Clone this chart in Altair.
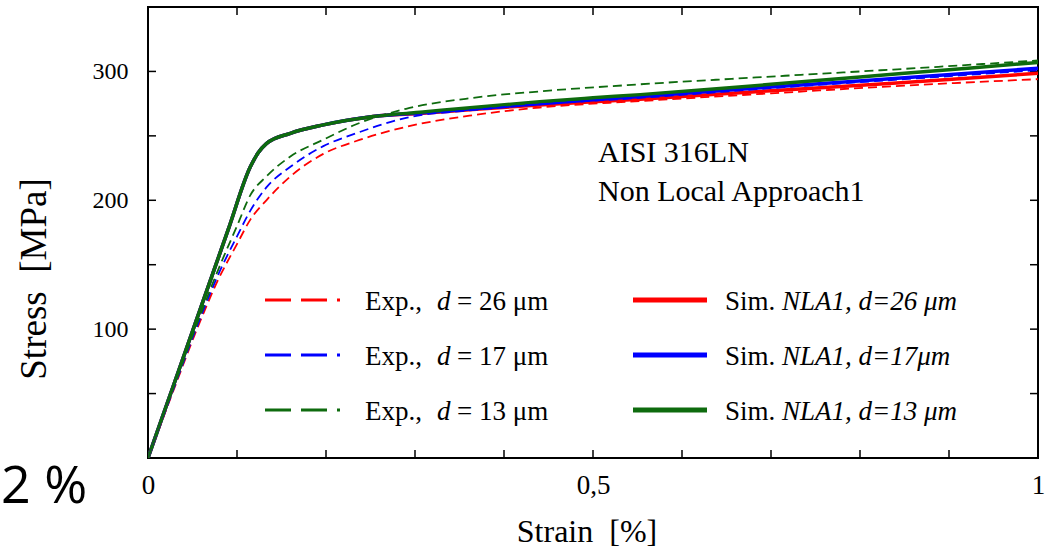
import altair as alt
import pandas as pd

# ---------------- data ----------------
sim_x = [0, 0.03, 0.06, 0.09, 0.115, 0.124, 0.133, 0.16, 0.197, 0.253, 0.309, 0.365, 0.44, 0.5, 0.553, 0.7, 0.85, 1.0]
sim_red = [0, 59, 118, 177, 226, 237, 244, 252, 258.5, 265, 267.5, 270.5, 274, 276.5, 278.5, 285, 291.5, 298.5]
sim_blue = [0, 59, 118, 177, 226, 237, 244, 252, 258.5, 265, 268, 271, 275, 278, 280.5, 288, 295, 302.5]
sim_green = [0, 59, 118, 177, 226, 237, 244, 252, 258.5, 265, 268.5, 272, 276.5, 279.5, 282, 290, 298.5, 307]

exp_x = [0, 0.03, 0.055, 0.08, 0.1, 0.115, 0.133, 0.16, 0.197, 0.234, 0.29, 0.365, 0.44, 0.553, 0.7, 0.85, 1.0]
exp_red = [0, 55, 100, 140, 166, 185, 200, 218.5, 236, 246, 257, 266, 272, 277, 283, 289, 294]
exp_blue = [0, 56, 102, 144, 172, 192, 210, 226, 242, 252, 264, 270, 274.5, 279.5, 287, 294, 301]
exp_green = [0, 57, 104, 148, 180, 204, 218.5, 234, 247, 259, 271, 279.5, 284.5, 290, 296, 302, 308.5]

x_minor_ticks = [0.1, 0.2, 0.3, 0.4, 0.5, 0.6, 0.7, 0.8, 0.9]
y_minor_ticks = [50, 100, 150, 200, 250, 300]
x_labels = [0, 0.5, 1]
y_labels = [100, 200, 300]

exp_legend = ["26 μm", "17 μm", "13 μm"]
sim_legend = ["NLA1, d=26 μm", "NLA1, d=17μm", "NLA1, d=13 μm"]
colors = ["#ff0000", "#0000ff", "#0e6b0e"]

W, H = 890, 451
SERIF = "Liberation Serif"

xs = alt.Scale(domain=[0, 1], nice=False)
ys = alt.Scale(domain=[0, 350], nice=False)

one = pd.DataFrame({"k": [0]})


def curve(xv, yv, color, dashed):
    df = pd.DataFrame({"strain": xv, "stress": yv})
    kw = dict(color=color, strokeWidth=1.8 if dashed else 3.5, interpolate="monotone", clip=True)
    if dashed:
        kw["strokeDash"] = [9, 5]
    return alt.Chart(df).mark_line(**kw).encode(
        x=alt.X("strain:Q", scale=xs),
        y=alt.Y("stress:Q", scale=ys),
    )


layers = []

# axes (labels only); frame drawn by the view stroke
axis_layer = alt.Chart(pd.DataFrame({"strain": [0.0, 1.0], "stress": [0.0, 350.0]})).mark_point(opacity=0).encode(
    x=alt.X(
        "strain:Q", scale=xs,
        axis=alt.Axis(values=x_labels,
                      labelExpr="datum.value == 0.5 ? '0,5' : (datum.value == 0 ? '0' : '1')",
                      ticks=False, domain=False, grid=False, title=None,
                      labelFont=SERIF, labelFontSize=27, labelColor="black", labelPadding=14,
                      labelFlush=False),
    ),
    y=alt.Y(
        "stress:Q", scale=ys,
        axis=alt.Axis(values=y_labels, ticks=False, domain=False, grid=False, title=None,
                      labelFont=SERIF, labelFontSize=24, labelColor="black", labelPadding=20),
    ),
)
layers.append(axis_layer)

# inward ticks
xt = pd.DataFrame({"strain": x_minor_ticks})
yt = pd.DataFrame({"stress": y_minor_ticks})
tick_style = dict(color="black", strokeWidth=1.5)
layers.append(alt.Chart(xt).mark_rule(**tick_style).encode(x=alt.X("strain:Q", scale=xs), y=alt.value(H), y2=alt.value(H - 8)))
layers.append(alt.Chart(xt).mark_rule(**tick_style).encode(x=alt.X("strain:Q", scale=xs), y=alt.value(0), y2=alt.value(8)))
layers.append(alt.Chart(yt).mark_rule(**tick_style).encode(y=alt.Y("stress:Q", scale=ys), x=alt.value(0), x2=alt.value(8)))
layers.append(alt.Chart(yt).mark_rule(**tick_style).encode(y=alt.Y("stress:Q", scale=ys), x=alt.value(W), x2=alt.value(W - 8)))

# curves
for yv, c in zip([sim_red, sim_blue, sim_green], colors):
    layers.append(curve(sim_x, yv, c, False))
for yv, c in zip([exp_red, exp_blue, exp_green], colors):
    layers.append(curve(exp_x, yv, c, True))

# legend (drawn inside the plot)
row_y = [293, 348, 403]
for i in range(3):
    ly = row_y[i]
    bl = ly + 10
    c = colors[i]
    layers.append(alt.Chart(one).mark_rule(color=c, strokeWidth=3, strokeDash=[26, 10]).encode(
        x=alt.value(117), x2=alt.value(192), y=alt.value(ly)))
    layers.append(alt.Chart(one).mark_rule(color=c, strokeWidth=5).encode(
        x=alt.value(485), x2=alt.value(559), y=alt.value(ly)))
    t = dict(font=SERIF, fontSize=27, color="black", align="left", baseline="alphabetic")
    layers.append(alt.Chart(one).mark_text(**t).encode(x=alt.value(217), y=alt.value(bl), text=alt.value("Exp.,")))
    layers.append(alt.Chart(one).mark_text(fontStyle="italic", **t).encode(x=alt.value(289), y=alt.value(bl), text=alt.value("d")))
    layers.append(alt.Chart(one).mark_text(**t).encode(x=alt.value(309), y=alt.value(bl), text=alt.value("= " + exp_legend[i])))
    layers.append(alt.Chart(one).mark_text(**t).encode(x=alt.value(577), y=alt.value(bl), text=alt.value("Sim.")))
    layers.append(alt.Chart(one).mark_text(fontStyle="italic", **t).encode(x=alt.value(634), y=alt.value(bl), text=alt.value(sim_legend[i])))

# annotation
ann = dict(font=SERIF, fontSize=30, color="black", align="left", baseline="alphabetic")
layers.append(alt.Chart(one).mark_text(**ann).encode(x=alt.value(450), y=alt.value(155), text=alt.value("AISI 316LN")))
layers.append(alt.Chart(one).mark_text(**ann).encode(x=alt.value(450), y=alt.value(194), text=alt.value("Non Local Approach1")))

# axis titles
layers.append(alt.Chart(one).mark_text(font=SERIF, fontSize=32, color="black", align="center", baseline="alphabetic").encode(
    x=alt.value(439), y=alt.value(535), text=alt.value("Strain\u00a0 [%]")))
layers.append(alt.Chart(one).mark_text(font=SERIF, fontSize=37, color="black", align="center", baseline="alphabetic", angle=270).encode(
    x=alt.value(-102), y=alt.value(272), text=alt.value("Stress\u00a0 [MPa]")))

# large side text
layers.append(alt.Chart(one).mark_text(font="Open Sans", fontSize=52, color="black", align="left", baseline="alphabetic").encode(
    x=alt.value(-147), y=alt.value(496), text=alt.value("2 %")))

chart = alt.layer(*layers).properties(
    width=W, height=H,
    padding={"left": 148, "top": 7, "right": 13, "bottom": 98},
    autosize=alt.AutoSizeParams(type="none"),
    background="white",
).configure_view(stroke="black", strokeWidth=2)

chart.save("out.html", embed_options={"renderer": "svg", "actions": False})
